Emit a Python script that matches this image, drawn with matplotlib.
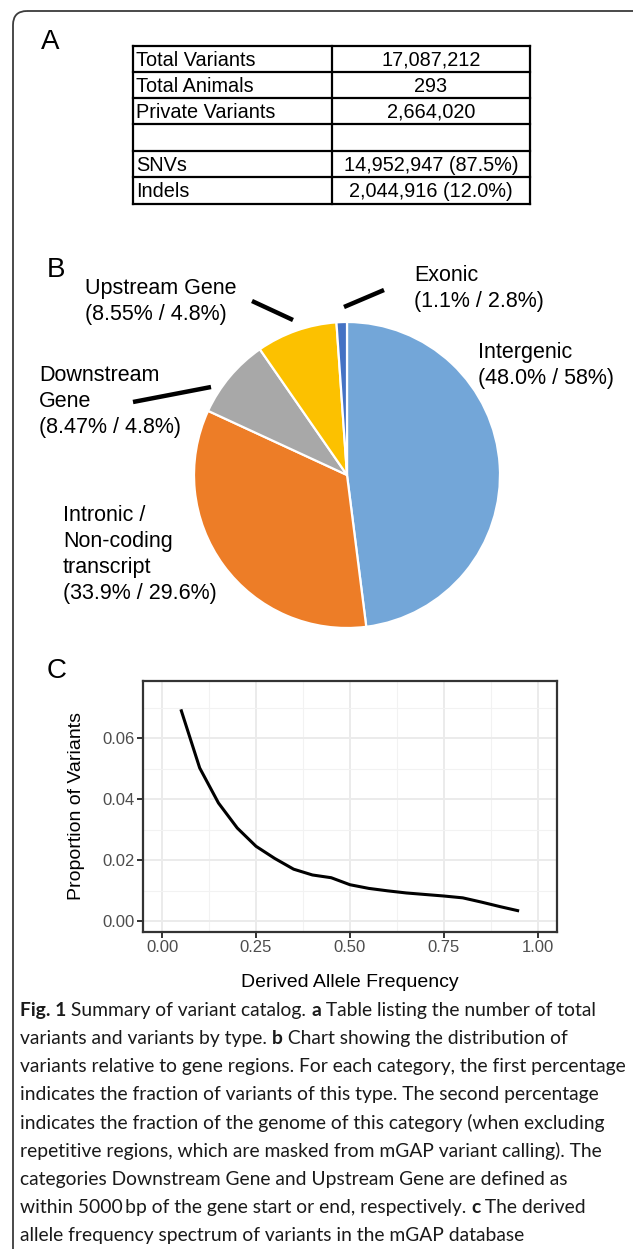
import matplotlib
matplotlib.use("Agg")
import matplotlib.pyplot as plt
from matplotlib.patches import FancyBboxPatch
import numpy as np

# ---- data ----
table_labels = ["Total Variants", "Total Animals", "Private Variants", "", "SNVs", "Indels"]
table_values = ["17,087,212", "293", "2,664,020", "", "14,952,947 (87.5%)", "2,044,916 (12.0%)"]

pie_names = ["Intergenic", "Intronic / Non-coding transcript", "Downstream Gene",
             "Upstream Gene", "Exonic"]
pie_variants = [48.0, 33.9, 8.47, 8.55, 1.1]
pie_genome = ["58%", "29.6%", "4.8%", "4.8%", "2.8%"]
pie_colors = ["#73A6D8", "#ED7D27", "#A8A8A8", "#FCC100", "#4472C4"]

daf = [0.05, 0.10, 0.15, 0.20, 0.25, 0.30, 0.35, 0.40, 0.45, 0.50,
       0.55, 0.60, 0.65, 0.70, 0.75, 0.80, 0.85, 0.90, 0.95]
prop = [0.0695, 0.0503, 0.0388, 0.0306, 0.0246, 0.0206, 0.0171, 0.0152, 0.0143, 0.0120,
        0.0108, 0.0100, 0.0093, 0.0088, 0.0083, 0.0077, 0.0063, 0.0048, 0.0034]

caption = [
    [("Fig. 1", True), (" Summary of variant catalog. ", False), ("a", True),
     (" Table listing the number of total", False)],
    [("variants and variants by type. ", False), ("b", True), (" Chart showing the distribution of", False)],
    [("variants relative to gene regions. For each category, the first percentage", False)],
    [("indicates the fraction of variants of this type. The second percentage", False)],
    [("indicates the fraction of the genome of this category (when excluding", False)],
    [("repetitive regions, which are masked from mGAP variant calling). The", False)],
    [("categories Downstream Gene and Upstream Gene are defined as", False)],
    [("within 5000\u2009bp of the gene start or end, respectively. ", False), ("c", True),
     (" The derived", False)],
    [("allele frequency spectrum of variants in the mGAP database", False)],
]

W, H = 633, 1249
fig = plt.figure(figsize=(W / 100, H / 100), dpi=100)
SANS = ["Liberation Sans", "DejaVu Sans"]
CAP = ["Lato", "DejaVu Sans"]

# full-figure axes in pixel coordinates for frame, table, labels, caption
bg = fig.add_axes([0, 0, 1, 1])
bg.set_xlim(0, W)
bg.set_ylim(H, 0)
bg.axis("off")

frame = FancyBboxPatch((13, 11), 640, 1262, boxstyle="round,pad=0,rounding_size=14",
                       fc="none", ec="#3c3c3c", lw=1.3, clip_on=False)
bg.add_patch(frame)

# panel letters
for letter, (lx, ly) in zip("ABC", [(41, 42), (47, 270), (47, 671)]):
    bg.text(lx, ly, letter, fontsize=20, family=SANS, va="center", ha="left")

# ---- A: table ----
tx0, tx1, tx2 = 133, 332, 530
row_y = [46, 72, 98, 124, 151, 177, 204]
for y in row_y:
    bg.plot([tx0, tx2], [y, y], color="black", lw=1.6, solid_capstyle="projecting")
for x in (tx0, tx1, tx2):
    bg.plot([x, x], [row_y[0], row_y[-1]], color="black", lw=1.6, solid_capstyle="projecting")
for i, (lab, val) in enumerate(zip(table_labels, table_values)):
    yc = (row_y[i] + row_y[i + 1]) / 2 + 1
    bg.text(tx0 + 3, yc, lab, fontsize=14.3, family=SANS, va="center", ha="left")
    bg.text((tx1 + tx2) / 2, yc, val, fontsize=14.3, family=SANS, va="center", ha="center")

# ---- B: pie ----
cx, cy, r = 347, 475, 153
pax = fig.add_axes([(cx - r) / W, 1 - (cy + r) / H, 2 * r / W, 2 * r / H])
pax.pie(pie_variants, colors=pie_colors, startangle=90, counterclock=False,
        wedgeprops=dict(edgecolor="white", linewidth=1.6))
pax.set_xlim(-1, 1)
pax.set_ylim(-1, 1)
pax.set_aspect("auto")

label_lines = [
    ["Intergenic"],
    ["Intronic /", "Non-coding", "transcript"],
    ["Downstream", "Gene"],
    ["Upstream Gene"],
    ["Exonic"],
]
label_pos = [(478, 352), (63, 515), (39, 375), (85, 288), (414, 275)]
for lines, pct, gen, (lx, ly) in zip(label_lines, pie_variants, pie_genome, label_pos):
    pct_txt = f"{pct:.1f}%" if pct not in (8.47, 8.55) else f"{pct:.2f}%"
    for k, s in enumerate(lines + [f"({pct_txt} / {gen})"]):
        bg.text(lx, ly + k * 26.2, s, fontsize=15.5, family=SANS, va="center", ha="left")

# leader lines
for (x0, y0), (x1, y1) in [((252, 301), (293, 320)), ((344, 307), (384, 290)),
                           ((133, 402), (211, 387))]:
    bg.plot([x0, x1], [y0, y1], color="black", lw=3.2, solid_capstyle="butt")

# ---- C: allele frequency spectrum ----
L, R, T, B = 143.3, 556.7, 680.7, 931.7
ax = fig.add_axes([L / W, 1 - B / H, (R - L) / W, (B - T) / H])
ax.plot(daf, prop, color="black", lw=2.2, solid_capstyle="butt")
ax.set_xlim(-0.05, 1.05)
ax.set_ylim(-0.0034, 0.0789)
ax.set_xticks([0, 0.25, 0.5, 0.75, 1.0])
ax.set_xticklabels(["0.00", "0.25", "0.50", "0.75", "1.00"])
ax.set_yticks([0, 0.02, 0.04, 0.06])
ax.set_yticklabels(["0.00", "0.02", "0.04", "0.06"])
ax.set_xticks([0.125, 0.375, 0.625, 0.875], minor=True)
ax.set_yticks([0.01, 0.03, 0.05, 0.07], minor=True)
ax.grid(True, which="major", color="#EBEBEB", lw=1.4)
ax.grid(True, which="minor", color="#F2F2F2", lw=0.8)
ax.set_axisbelow(True)
for sp in ax.spines.values():
    sp.set_color("#333333")
    sp.set_linewidth(1.6)
ax.tick_params(which="major", length=4, width=1.4, color="#333333", labelcolor="#4D4D4D",
               labelsize=12, pad=2)
ax.tick_params(which="minor", length=0)
for t in ax.get_xticklabels() + ax.get_yticklabels():
    t.set_family(SANS)
ax.set_xlabel("Derived Allele Frequency", fontsize=14, family=SANS)
ax.set_ylabel("Proportion of Variants", fontsize=14, family=SANS)
ax.xaxis.set_label_coords(0.5, -0.17)
ax.yaxis.set_label_coords(-0.141, 0.5)

# ---- caption with inline bold ----
rend = fig.canvas.get_renderer()
probe = bg.text(0, 0, caption[2][0][0], fontsize=10, family=CAP)
cap_size = 10 * 608 / probe.get_window_extent(renderer=rend).width
probe.remove()

for i, segs in enumerate(caption):
    x = 20
    y = 1010 + i * 28.2
    for txt, bold in segs:
        t = bg.text(x, y, txt, fontsize=cap_size, family=CAP, va="center", ha="left",
                    fontweight="bold" if bold else "normal", color="#1a1a1a")
        x += t.get_window_extent(renderer=rend).width

fig.savefig("out.png", dpi=100)
